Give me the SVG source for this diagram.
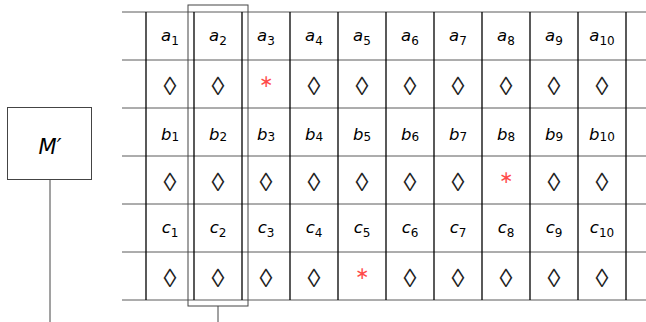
<svg xmlns="http://www.w3.org/2000/svg" width="646" height="322" viewBox="0 0 646 322">
<style>
.hl{stroke:#5a5a5a;stroke-width:1;fill:none}
.vl{stroke:#000;stroke-width:1.3;fill:none}
.box{stroke:#444;stroke-width:1;fill:#fff}
.lab{font-family:"DejaVu Sans",sans-serif;font-size:16.5px;font-style:italic;fill:#000;text-anchor:middle}
.sub{font-size:12px;font-style:normal}
.dia{font-family:"Liberation Sans",sans-serif;font-size:26px;fill:#222;text-anchor:middle}
.ast{font-family:"DejaVu Sans",sans-serif;font-size:17px;fill:#ff4a4a;text-anchor:middle}
.conn{stroke:#444;stroke-width:1;fill:none}
</style>
<rect width="646" height="322" fill="#fff"/>
<g id="grid">
<g class="hl">
<line x1="122" y1="12" x2="646" y2="12"/>
<line x1="122" y1="60" x2="646" y2="60"/>
<line x1="122" y1="108" x2="646" y2="108"/>
<line x1="122" y1="156" x2="646" y2="156"/>
<line x1="122" y1="204" x2="646" y2="204"/>
<line x1="122" y1="252" x2="646" y2="252"/>
<line x1="122" y1="300" x2="646" y2="300"/>
</g>
<g class="vl">
<line x1="146" y1="12" x2="146" y2="300"/>
<line x1="194" y1="12" x2="194" y2="300"/>
<line x1="242" y1="12" x2="242" y2="300"/>
<line x1="290" y1="12" x2="290" y2="300"/>
<line x1="338" y1="12" x2="338" y2="300"/>
<line x1="386" y1="12" x2="386" y2="300"/>
<line x1="434" y1="12" x2="434" y2="300"/>
<line x1="482" y1="12" x2="482" y2="300"/>
<line x1="530" y1="12" x2="530" y2="300"/>
<line x1="578" y1="12" x2="578" y2="300"/>
<line x1="626" y1="12" x2="626" y2="300"/>
</g>
</g>
<g id="row-a" class="lab">
<text x="170" y="41.3">a<tspan class="sub" dy="3.7">1</tspan></text>
<text x="218" y="41.3">a<tspan class="sub" dy="3.7">2</tspan></text>
<text x="266" y="41.3">a<tspan class="sub" dy="3.7">3</tspan></text>
<text x="314" y="41.3">a<tspan class="sub" dy="3.7">4</tspan></text>
<text x="362" y="41.3">a<tspan class="sub" dy="3.7">5</tspan></text>
<text x="410" y="41.3">a<tspan class="sub" dy="3.7">6</tspan></text>
<text x="458" y="41.3">a<tspan class="sub" dy="3.7">7</tspan></text>
<text x="506" y="41.3">a<tspan class="sub" dy="3.7">8</tspan></text>
<text x="554" y="41.3">a<tspan class="sub" dy="3.7">9</tspan></text>
<text x="602" y="41.3">a<tspan class="sub" dy="3.7">10</tspan></text>
</g>
<g id="row-b" class="lab">
<text x="170" y="139.7">b<tspan class="sub" dy="1.6">1</tspan></text>
<text x="218" y="139.7">b<tspan class="sub" dy="1.6">2</tspan></text>
<text x="266" y="139.7">b<tspan class="sub" dy="1.6">3</tspan></text>
<text x="314" y="139.7">b<tspan class="sub" dy="1.6">4</tspan></text>
<text x="362" y="139.7">b<tspan class="sub" dy="1.6">5</tspan></text>
<text x="410" y="139.7">b<tspan class="sub" dy="1.6">6</tspan></text>
<text x="458" y="139.7">b<tspan class="sub" dy="1.6">7</tspan></text>
<text x="506" y="139.7">b<tspan class="sub" dy="1.6">8</tspan></text>
<text x="554" y="139.7">b<tspan class="sub" dy="1.6">9</tspan></text>
<text x="602" y="139.7">b<tspan class="sub" dy="1.6">10</tspan></text>
</g>
<g id="row-c" class="lab">
<text x="170" y="233.3">c<tspan class="sub" dy="4">1</tspan></text>
<text x="218" y="233.3">c<tspan class="sub" dy="4">2</tspan></text>
<text x="266" y="233.3">c<tspan class="sub" dy="4">3</tspan></text>
<text x="314" y="233.3">c<tspan class="sub" dy="4">4</tspan></text>
<text x="362" y="233.3">c<tspan class="sub" dy="4">5</tspan></text>
<text x="410" y="233.3">c<tspan class="sub" dy="4">6</tspan></text>
<text x="458" y="233.3">c<tspan class="sub" dy="4">7</tspan></text>
<text x="506" y="233.3">c<tspan class="sub" dy="4">8</tspan></text>
<text x="554" y="233.3">c<tspan class="sub" dy="4">9</tspan></text>
<text x="602" y="233.3">c<tspan class="sub" dy="4">10</tspan></text>
</g>
<g id="row-a-marks">
<text class="dia" x="170" y="95">◊</text>
<text class="dia" x="218" y="95">◊</text>
<text class="ast" x="266" y="86.5">∗</text>
<text class="dia" x="314" y="95">◊</text>
<text class="dia" x="362" y="95">◊</text>
<text class="dia" x="410" y="95">◊</text>
<text class="dia" x="458" y="95">◊</text>
<text class="dia" x="506" y="95">◊</text>
<text class="dia" x="554" y="95">◊</text>
<text class="dia" x="602" y="95">◊</text>
</g>
<g id="row-b-marks">
<text class="dia" x="170" y="191">◊</text>
<text class="dia" x="218" y="191">◊</text>
<text class="dia" x="266" y="191">◊</text>
<text class="dia" x="314" y="191">◊</text>
<text class="dia" x="362" y="191">◊</text>
<text class="dia" x="410" y="191">◊</text>
<text class="dia" x="458" y="191">◊</text>
<text class="ast" x="506" y="182.5">∗</text>
<text class="dia" x="554" y="191">◊</text>
<text class="dia" x="602" y="191">◊</text>
</g>
<g id="row-c-marks">
<text class="dia" x="170" y="287">◊</text>
<text class="dia" x="218" y="287">◊</text>
<text class="dia" x="266" y="287">◊</text>
<text class="dia" x="314" y="287">◊</text>
<text class="ast" x="362" y="278.5">∗</text>
<text class="dia" x="410" y="287">◊</text>
<text class="dia" x="458" y="287">◊</text>
<text class="dia" x="506" y="287">◊</text>
<text class="dia" x="554" y="287">◊</text>
<text class="dia" x="602" y="287">◊</text>
</g>
<g id="highlight">
<rect class="box" x="188" y="5" width="60" height="301" style="fill:none"/>
</g>
<g id="machine">
<rect class="box" x="7.5" y="107.5" width="84" height="72"/>
<text x="50" y="154" style="font-family:'DejaVu Sans',sans-serif;font-size:21px;font-style:italic;text-anchor:middle">M′</text>
</g>
<g id="connectors" class="conn">
<line x1="50" y1="179.5" x2="50" y2="322"/>
<line x1="218" y1="306" x2="218" y2="322"/>
</g>
</svg>
